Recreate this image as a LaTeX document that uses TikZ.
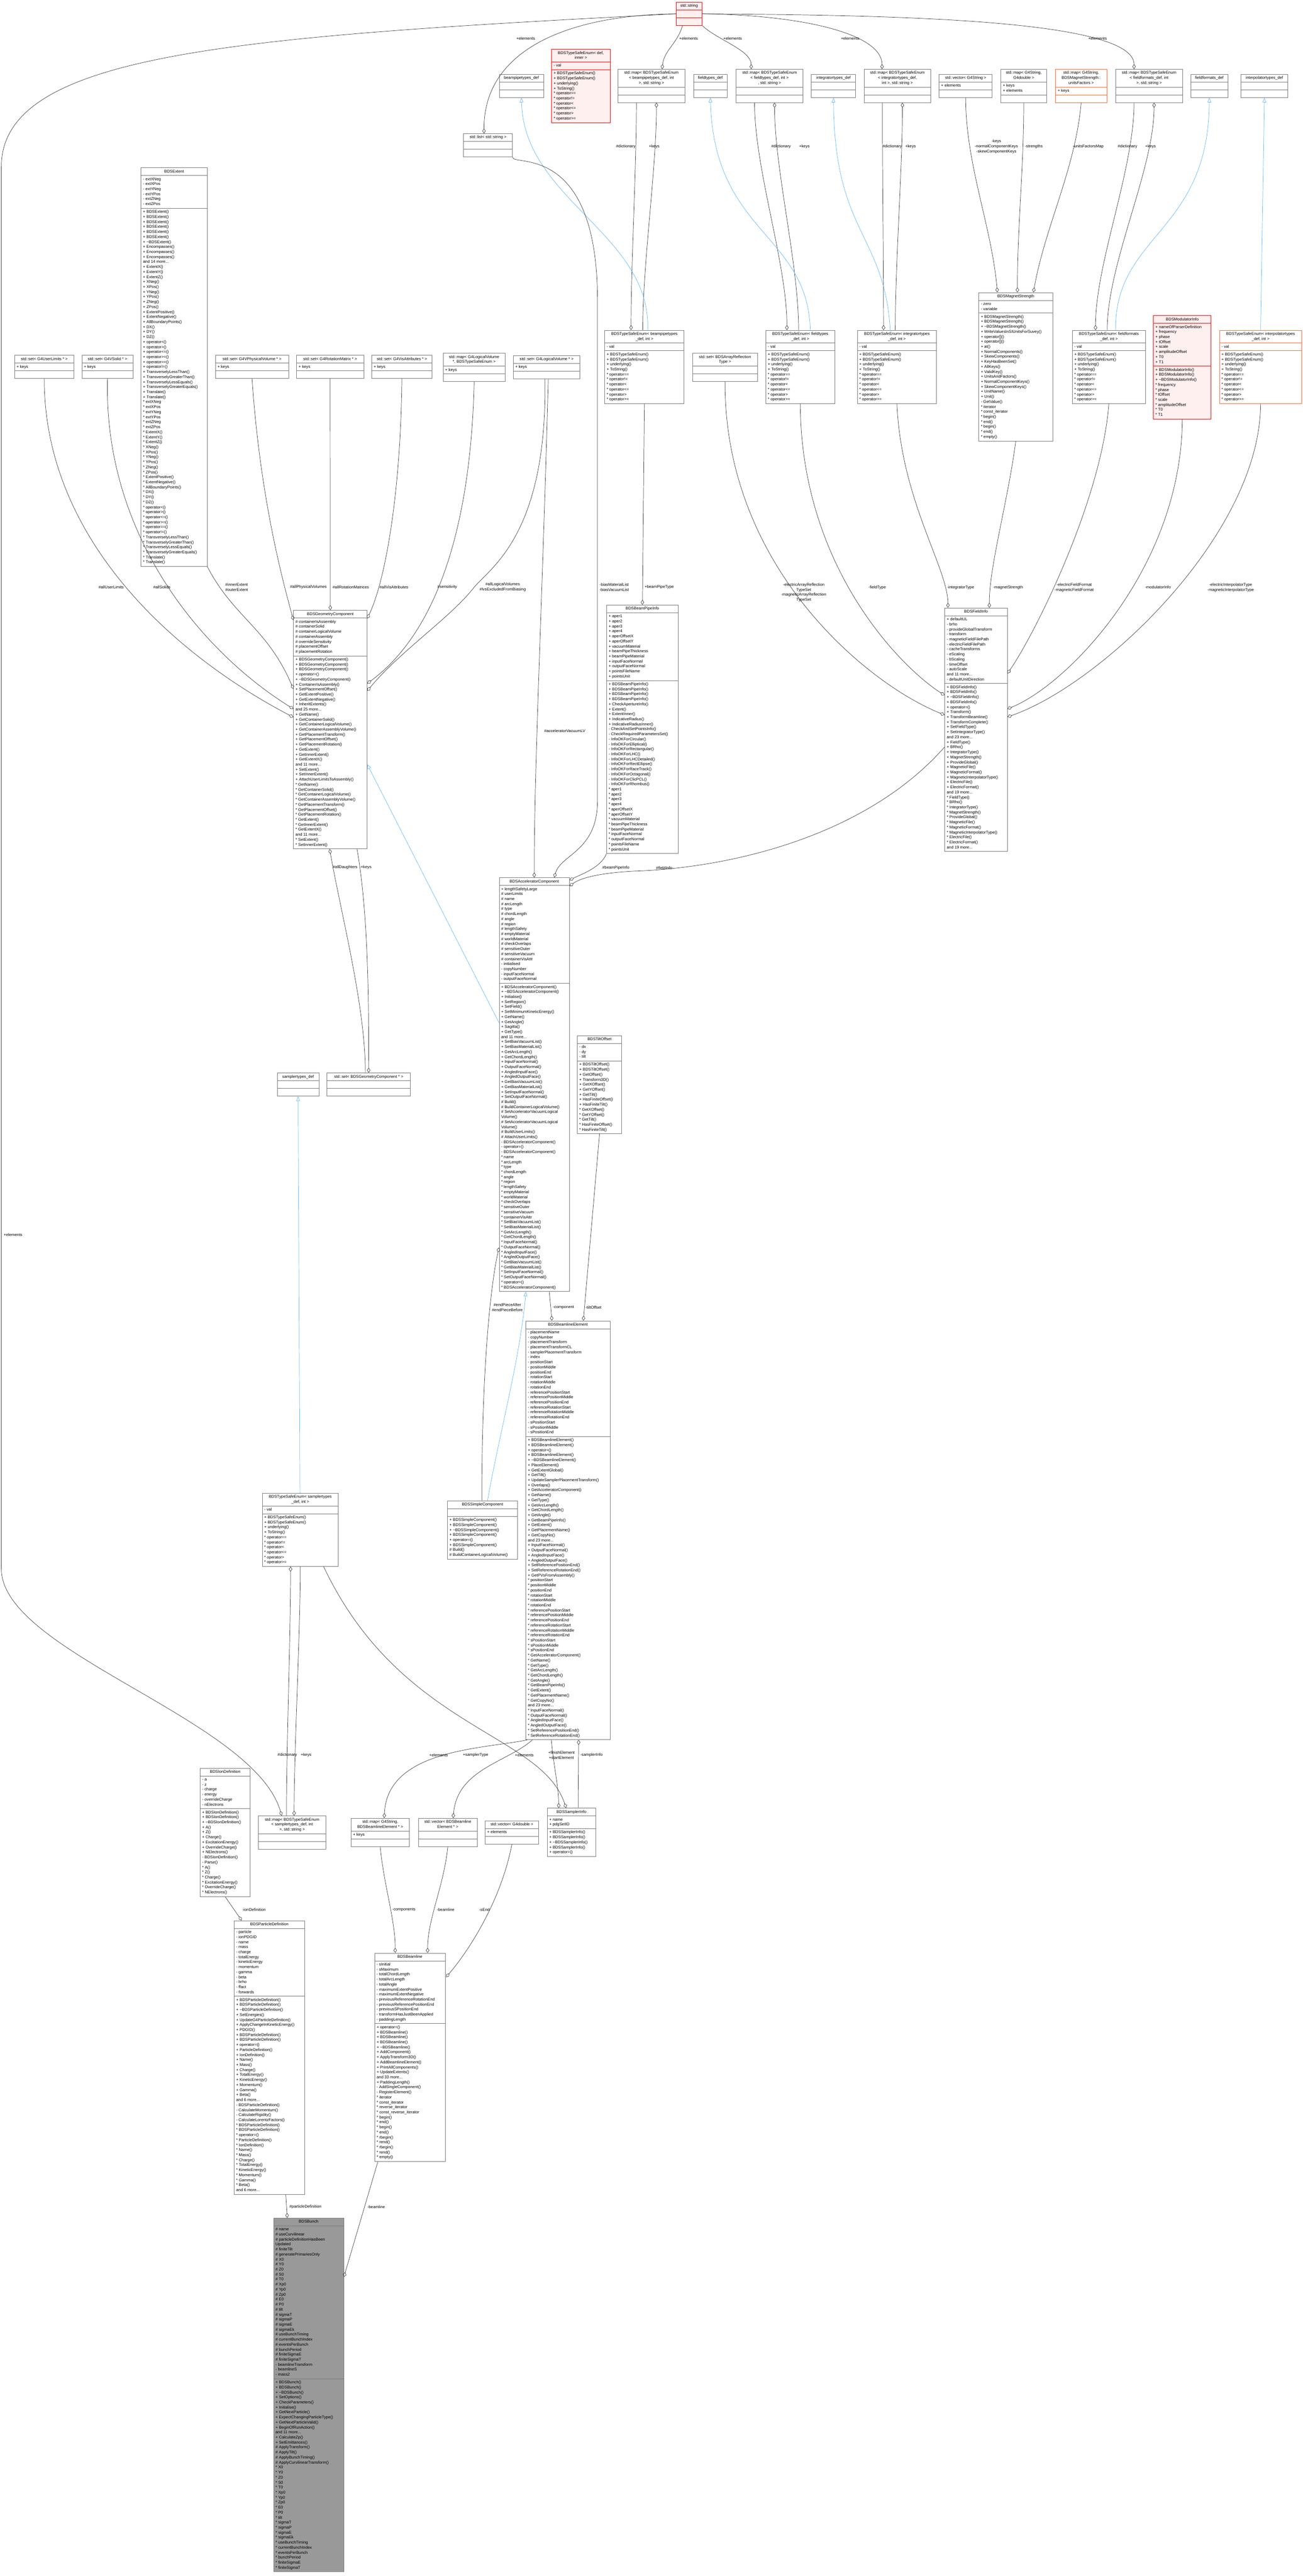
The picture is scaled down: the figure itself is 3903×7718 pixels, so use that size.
\documentclass[tikz,border=0pt]{standalone}
\usepackage{fontspec}
\setmainfont{Liberation Sans}
\usetikzlibrary{shapes.multipart,arrows.meta,calc}
\definecolor{boxgray}{HTML}{7A7A7A}
\definecolor{edgec}{HTML}{404040}
\definecolor{inhc}{HTML}{63B8FF}
\definecolor{redb}{HTML}{FF0000}
\definecolor{redf}{HTML}{FFF0F0}
\definecolor{orab}{HTML}{FF6633}
\definecolor{focf}{HTML}{999999}
\newcommand\fs{\fontsize{12}{15}\selectfont}
\newcommand\mlines[1]{\begin{tabular}{@{}l@{}}#1\end{tabular}}
\newcommand\tlines[1]{\begin{tabular}{@{}c@{}}#1\end{tabular}}
\newcommand\tl{\textasciitilde}
\newcommand\TSEM{\mlines{+ BDSTypeSafeEnum()\cr + BDSTypeSafeEnum()\cr + underlying()\cr + ToString()\cr * operator==\cr * operator!=\cr * operator<\cr * operator<=\cr * operator>\cr * operator>=}}
\newcommand\cls[6]{\node[cls,#2] (#1) at #3 {\tlines{#4}\nodepart{second}#5\nodepart{third}#6};}
\tikzset{
 cls/.style={rectangle split, rectangle split parts=3, rectangle split part align={center,left,left},
   draw=boxgray, line width=1.2pt, fill=white, anchor=north west, inner xsep=6pt, inner ysep=3.5pt, font=\fs},
 redbox/.style={draw=redb, fill=redf},
 orabox/.style={draw=orab},
 focbox/.style={fill=focf, draw=boxgray},
 agg/.style={draw=edgec, line width=1.1pt, -{Diamond[open,length=15pt,width=10pt]}, distance=200pt},
 inh/.style={draw=inhc, line width=1.1pt, -{Triangle[open,length=14pt,width=11pt]}, distance=200pt},
 lbl/.style={font=\fs, align=center, inner sep=1pt}
}
\begin{document}
\begin{tikzpicture}[x=1pt,y=1pt]
\useasboundingbox (0,0) rectangle (3903,-7718);
% ---------- top row ----------
\cls{string}{redbox,minimum width=78}{(2025,-6)}{std::string}{\strut}{\strut}
\cls{tse_def}{redbox,minimum width=175}{(1652,-147)}{BDSTypeSafeEnum< def,\cr inner >}{\mlines{- val}}{\TSEM}
\cls{bp_def}{minimum width=133}{(1495,-222)}{beampipetypes\_def}{\strut}{\strut}
\cls{list_str}{minimum width=147}{(1388,-400)}{std::list< std::string >}{\strut}{\strut}
\cls{map_bp}{minimum width=202}{(1850,-207)}{std::map< BDSTypeSafeEnum\cr < beampipetypes\_def, int\cr >, std::string >}{\strut}{\strut}
\cls{ft_def}{minimum width=101}{(2077,-222)}{fieldtypes\_def}{\strut}{\strut}
\cls{map_ft}{minimum width=200}{(2205,-207)}{std::map< BDSTypeSafeEnum\cr < fieldtypes\_def, int >\cr , std::string >}{\strut}{\strut}
\cls{it_def}{minimum width=133}{(2430,-222)}{integratortypes\_def}{\strut}{\strut}
\cls{map_it}{minimum width=200}{(2588,-207)}{std::map< BDSTypeSafeEnum\cr < integratortypes\_def,\cr int >, std::string >}{\strut}{\strut}
\cls{vec_gs}{minimum width=159}{(2813,-222)}{std::vector< G4String >}{\mlines{+ elements}}{\strut}
\cls{map_gd}{minimum width=137}{(2998,-207)}{std::map< G4String,\cr G4double >}{\mlines{+ keys\cr + elements}}{\strut}
\cls{map_uf}{orabox,minimum width=153}{(3162,-207)}{std::map< G4String,\cr BDSMagnetStrength::\cr unitsFactors >}{\mlines{+ keys}}{\strut}
\cls{map_ff}{minimum width=200}{(3342,-207)}{std::map< BDSTypeSafeEnum\cr < fieldformats\_def, int\cr >, std::string >}{\strut}{\strut}
\cls{ff_def}{minimum width=111}{(3567,-222)}{fieldformats\_def}{\strut}{\strut}
\cls{ip_def}{minimum width=141}{(3717,-222)}{interpolatortypes\_def}{\strut}{\strut}
% ---------- second row ----------
\cls{set_ul}{minimum width=178}{(43,-1064)}{std::set< G4UserLimits * >}{\mlines{+ keys}}{\strut}
\cls{set_sol}{minimum width=153}{(245,-1064)}{std::set< G4VSolid * >}{\mlines{+ keys}}{\strut}
\cls{extent}{minimum width=198}{(422,-502)}{BDSExtent}{\mlines{- extXNeg\cr - extXPos\cr - extYNeg\cr - extYPos\cr - extZNeg\cr - extZPos}}{\mlines{+ BDSExtent()\cr + BDSExtent()\cr + BDSExtent()\cr + BDSExtent()\cr + BDSExtent()\cr + BDSExtent()\cr + \tl BDSExtent()\cr + Encompasses()\cr + Encompasses()\cr + Encompasses()\cr and 14 more...\cr + ExtentX()\cr + ExtentY()\cr + ExtentZ()\cr + XNeg()\cr + XPos()\cr + YNeg()\cr + YPos()\cr + ZNeg()\cr + ZPos()\cr + ExtentPositive()\cr + ExtentNegative()\cr + AllBoundaryPoints()\cr + DX()\cr + DY()\cr + DZ()\cr + operator<()\cr + operator>()\cr + operator<=()\cr + operator>=()\cr + operator==()\cr + operator!=()\cr + TransverselyLessThan()\cr + TransverselyGreaterThan()\cr + TransverselyLessEquals()\cr + TransverselyGreaterEquals()\cr + Translate()\cr + Translate()\cr * extXNeg\cr * extXPos\cr * extYNeg\cr * extYPos\cr * extZNeg\cr * extZPos\cr * ExtentX()\cr * ExtentY()\cr * ExtentZ()\cr * XNeg()\cr * XPos()\cr * YNeg()\cr * YPos()\cr * ZNeg()\cr * ZPos()\cr * ExtentPositive()\cr * ExtentNegative()\cr * AllBoundaryPoints()\cr * DX()\cr * DY()\cr * DZ()\cr * operator<()\cr * operator>()\cr * operator<=()\cr * operator>=()\cr * operator==()\cr * operator!=()\cr * TransverselyLessThan()\cr * TransverselyGreaterThan()\cr * TransverselyLessEquals()\cr * TransverselyGreaterEquals()\cr * Translate()\cr * Translate()}}
\cls{set_pv}{minimum width=219}{(645,-1064)}{std::set< G4VPhysicalVolume * >}{\mlines{+ keys}}{\strut}
\cls{set_rm}{minimum width=201}{(888,-1064)}{std::set< G4RotationMatrix * >}{\mlines{+ keys}}{\strut}
\cls{set_va}{minimum width=181}{(1113,-1064)}{std::set< G4VisAttributes * >}{\mlines{+ keys}}{\strut}
\cls{map_lv}{minimum width=186}{(1327,-1058)}{std::map< G4LogicalVolume\cr *, BDSTypeSafeEnum >}{\mlines{+ keys}}{\strut}
\cls{set_lv}{minimum width=200}{(1537,-1065)}{std::set< G4LogicalVolume * >}{\mlines{+ keys}}{\strut}
\cls{tse_bp}{minimum width=238}{(1811,-989)}{BDSTypeSafeEnum< beampipetypes\cr \_def, int >}{\mlines{- val}}{\TSEM}
\cls{set_ar}{minimum width=195}{(2074,-1058)}{std::set< BDSArrayReflection\cr Type >}{\strut}{\strut}
\cls{tse_ft}{minimum width=206}{(2294,-989)}{BDSTypeSafeEnum< fieldtypes\cr \_def, int >}{\mlines{- val}}{\TSEM}
\cls{tse_it}{minimum width=237}{(2568,-989)}{BDSTypeSafeEnum< integratortypes\cr \_def, int >}{\mlines{- val}}{\TSEM}
\cls{magstr}{minimum width=221}{(2932,-876)}{BDSMagnetStrength}{\mlines{- zero\cr - variable}}{\mlines{+ BDSMagnetStrength()\cr + BDSMagnetStrength()\cr + \tl BDSMagnetStrength()\cr + WriteValuesInSIUnitsForSuvey()\cr + operator[]()\cr + operator[]()\cr + at()\cr + NormalComponents()\cr + SkewComponents()\cr + KeyHasBeenSet()\cr + AllKeys()\cr + ValidKey()\cr + UnitsAndFactors()\cr + NormalComponentKeys()\cr + SkewComponentKeys()\cr + UnitName()\cr + Unit()\cr - GetValue()\cr * iterator\cr * const\_iterator\cr * begin()\cr * end()\cr * begin()\cr * end()\cr * empty()}}
\cls{tse_ff}{minimum width=219}{(3212,-989)}{BDSTypeSafeEnum< fieldformats\cr \_def, int >}{\mlines{- val}}{\TSEM}
\cls{modinfo}{redbox,minimum width=173}{(3455,-945)}{BDSModulatorInfo}{\mlines{+ nameOfParserDefinition\cr + frequency\cr + phase\cr + tOffset\cr + scale\cr + amplitudeOffset\cr + T0\cr + T1}}{\mlines{+ BDSModulatorInfo()\cr + BDSModulatorInfo()\cr + \tl BDSModulatorInfo()\cr * frequency\cr * phase\cr * tOffset\cr * scale\cr * amplitudeOffset\cr * T0\cr * T1}}
\cls{tse_ip}{orabox,minimum width=246}{(3653,-989)}{BDSTypeSafeEnum< interpolatortypes\cr \_def, int >}{\mlines{- val}}{\TSEM}
% ---------- third level ----------
\cls{geom}{minimum width=220}{(879,-1828)}{BDSGeometryComponent}{\mlines{\# containerIsAssembly\cr \# containerSolid\cr \# containerLogicalVolume\cr \# containerAssembly\cr \# overrideSensitivity\cr \# placementOffset\cr \# placementRotation}}{\mlines{+ BDSGeometryComponent()\cr + BDSGeometryComponent()\cr + BDSGeometryComponent()\cr + operator=()\cr + \tl BDSGeometryComponent()\cr + ContainerIsAssembly()\cr + SetPlacementOffset()\cr + GetExtentPositive()\cr + GetExtentNegative()\cr + InheritExtents()\cr and 25 more...\cr + GetName()\cr + GetContainerSolid()\cr + GetContainerLogicalVolume()\cr + GetContainerAssemblyVolume()\cr + GetPlacementTransform()\cr + GetPlacementOffset()\cr + GetPlacementRotation()\cr + GetExtent()\cr + GetInnerExtent()\cr + GetExtentX()\cr and 11 more...\cr + SetExtent()\cr + SetInnerExtent()\cr + AttachUserLimitsToAssembly()\cr * GetName()\cr * GetContainerSolid()\cr * GetContainerLogicalVolume()\cr * GetContainerAssemblyVolume()\cr * GetPlacementTransform()\cr * GetPlacementOffset()\cr * GetPlacementRotation()\cr * GetExtent()\cr * GetInnerExtent()\cr * GetExtentX()\cr and 11 more...\cr * SetExtent()\cr * SetInnerExtent()}}
\cls{bpinfo}{minimum width=214}{(1817,-1812)}{BDSBeamPipeInfo}{\mlines{+ aper1\cr + aper2\cr + aper3\cr + aper4\cr + aperOffsetX\cr + aperOffsetY\cr + vacuumMaterial\cr + beamPipeThickness\cr + beamPipeMaterial\cr + inputFaceNormal\cr + outputFaceNormal\cr + pointsFileName\cr + pointsUnit}}{\mlines{+ BDSBeamPipeInfo()\cr + BDSBeamPipeInfo()\cr + BDSBeamPipeInfo()\cr + BDSBeamPipeInfo()\cr + CheckApertureInfo()\cr + Extent()\cr + ExtentInner()\cr + IndicativeRadius()\cr + IndicativeRadiusInner()\cr - CheckAndSetPointsInfo()\cr - CheckRequiredParametersSet()\cr - InfoOKForCircular()\cr - InfoOKForElliptical()\cr - InfoOKForRectangular()\cr - InfoOKForLHC()\cr - InfoOKForLHCDetailed()\cr - InfoOKForRectEllipse()\cr - InfoOKForRaceTrack()\cr - InfoOKForOctagonal()\cr - InfoOKForClicPCL()\cr - InfoOKForRhombus()\cr * aper1\cr * aper2\cr * aper3\cr * aper4\cr * aperOffsetX\cr * aperOffsetY\cr * vacuumMaterial\cr * beamPipeThickness\cr * beamPipeMaterial\cr * inputFaceNormal\cr * outputFaceNormal\cr * pointsFileName\cr * pointsUnit}}
\cls{fieldinfo}{minimum width=187}{(2830,-1821)}{BDSFieldInfo}{\mlines{+ defaultUL\cr - brho\cr - provideGlobalTransform\cr - transform\cr - magneticFieldFilePath\cr - electricFieldFilePath\cr - cacheTransforms\cr - eScaling\cr - bScaling\cr - timeOffset\cr - autoScale\cr and 11 more...\cr - defaultUnitDirection}}{\mlines{+ BDSFieldInfo()\cr + BDSFieldInfo()\cr + \tl BDSFieldInfo()\cr + BDSFieldInfo()\cr + operator=()\cr + Transform()\cr + TransformBeamline()\cr + TransformComplete()\cr + SetFieldType()\cr + SetIntegratorType()\cr and 23 more...\cr + FieldType()\cr + BRho()\cr + IntegratorType()\cr + MagnetStrength()\cr + ProvideGlobal()\cr + MagneticFile()\cr + MagneticFormat()\cr + MagneticInterpolatorType()\cr + ElectricFile()\cr + ElectricFormat()\cr and 19 more...\cr * FieldType()\cr * BRho()\cr * IntegratorType()\cr * MagnetStrength()\cr * ProvideGlobal()\cr * MagneticFile()\cr * MagneticFormat()\cr * MagneticInterpolatorType()\cr * ElectricFile()\cr * ElectricFormat()\cr and 19 more...}}
\cls{samp_def}{minimum width=125}{(830,-3214)}{samplertypes\_def}{\strut}{\strut}
\cls{set_gc}{minimum width=250}{(979,-3214)}{std::set< BDSGeometryComponent * >}{\strut}{\strut}
\cls{acc}{minimum width=210}{(1495,-2629)}{BDSAcceleratorComponent}{\mlines{+ lengthSafetyLarge\cr \# userLimits\cr \# name\cr \# arcLength\cr \# type\cr \# chordLength\cr \# angle\cr \# region\cr \# lengthSafety\cr \# emptyMaterial\cr \# worldMaterial\cr \# checkOverlaps\cr \# sensitiveOuter\cr \# sensitiveVacuum\cr \# containerVisAttr\cr - initialised\cr - copyNumber\cr - inputFaceNormal\cr - outputFaceNormal}}{\mlines{+ BDSAcceleratorComponent()\cr + \tl BDSAcceleratorComponent()\cr + Initialise()\cr + SetRegion()\cr + SetField()\cr + SetMinimumKineticEnergy()\cr + GetName()\cr + GetAngle()\cr + Sagitta()\cr + GetType()\cr and 11 more...\cr + SetBiasVacuumList()\cr + SetBiasMaterialList()\cr + GetArcLength()\cr + GetChordLength()\cr + InputFaceNormal()\cr + OutputFaceNormal()\cr + AngledInputFace()\cr + AngledOutputFace()\cr + GetBiasVacuumList()\cr + GetBiasMaterialList()\cr + SetInputFaceNormal()\cr + SetOutputFaceNormal()\cr \# Build()\cr \# BuildContainerLogicalVolume()\cr \# SetAcceleratorVacuumLogical\cr Volume()\cr \# SetAcceleratorVacuumLogical\cr Volume()\cr \# BuildUserLimits()\cr \# AttachUserLimits()\cr - BDSAcceleratorComponent()\cr - operator=()\cr - BDSAcceleratorComponent()\cr * name\cr * arcLength\cr * type\cr * chordLength\cr * angle\cr * region\cr * lengthSafety\cr * emptyMaterial\cr * worldMaterial\cr * checkOverlaps\cr * sensitiveOuter\cr * sensitiveVacuum\cr * containerVisAttr\cr * SetBiasVacuumList()\cr * SetBiasMaterialList()\cr * GetArcLength()\cr * GetChordLength()\cr * InputFaceNormal()\cr * OutputFaceNormal()\cr * AngledInputFace()\cr * AngledOutputFace()\cr * GetBiasVacuumList()\cr * GetBiasMaterialList()\cr * SetInputFaceNormal()\cr * SetOutputFaceNormal()\cr * operator=()\cr * BDSAcceleratorComponent()}}
\cls{tilt}{minimum width=133}{(1729,-3102)}{BDSTiltOffset}{\mlines{- dx\cr - dy\cr - tilt}}{\mlines{+ BDSTiltOffset()\cr + BDSTiltOffset()\cr + GetOffset()\cr + Transform3D()\cr + GetXOffset()\cr + GetYOffset()\cr + GetTilt()\cr + HasFiniteOffset()\cr + HasFiniteTilt()\cr * GetXOffset()\cr * GetYOffset()\cr * GetTilt()\cr * HasFiniteOffset()\cr * HasFiniteTilt()}}
\cls{ble}{minimum width=252}{(1575,-3957)}{BDSBeamlineElement}{\mlines{- placementName\cr - copyNumber\cr - placementTransform\cr - placementTransformCL\cr - samplerPlacementTransform\cr - index\cr - positionStart\cr - positionMiddle\cr - positionEnd\cr - rotationStart\cr - rotationMiddle\cr - rotationEnd\cr - referencePositionStart\cr - referencePositionMiddle\cr - referencePositionEnd\cr - referenceRotationStart\cr - referenceRotationMiddle\cr - referenceRotationEnd\cr - sPositionStart\cr - sPositionMiddle\cr - sPositionEnd}}{\mlines{+ BDSBeamlineElement()\cr + BDSBeamlineElement()\cr + operator=()\cr + BDSBeamlineElement()\cr + \tl BDSBeamlineElement()\cr + PlaceElement()\cr + GetExtentGlobal()\cr + GetTilt()\cr + UpdateSamplerPlacementTransform()\cr + Overlaps()\cr + GetAcceleratorComponent()\cr + GetName()\cr + GetType()\cr + GetArcLength()\cr + GetChordLength()\cr + GetAngle()\cr + GetBeamPipeInfo()\cr + GetExtent()\cr + GetPlacementName()\cr + GetCopyNo()\cr and 23 more...\cr + InputFaceNormal()\cr + OutputFaceNormal()\cr + AngledInputFace()\cr + AngledOutputFace()\cr + SetReferencePositionEnd()\cr + SetReferenceRotationEnd()\cr + GetPVsFromAssembly()\cr * positionStart\cr * positionMiddle\cr * positionEnd\cr * rotationStart\cr * rotationMiddle\cr * rotationEnd\cr * referencePositionStart\cr * referencePositionMiddle\cr * referencePositionEnd\cr * referenceRotationStart\cr * referenceRotationMiddle\cr * referenceRotationEnd\cr * sPositionStart\cr * sPositionMiddle\cr * sPositionEnd\cr * GetAcceleratorComponent()\cr * GetName()\cr * GetType()\cr * GetArcLength()\cr * GetChordLength()\cr * GetAngle()\cr * GetBeamPipeInfo()\cr * GetExtent()\cr * GetPlacementName()\cr * GetCopyNo()\cr and 23 more...\cr * InputFaceNormal()\cr * OutputFaceNormal()\cr * AngledInputFace()\cr * AngledOutputFace()\cr * SetReferencePositionEnd()\cr * SetReferenceRotationEnd()}}
\cls{simple}{minimum width=210}{(1340,-4496)}{BDSSimpleComponent}{\strut}{\mlines{+ BDSSimpleComponent()\cr + BDSSimpleComponent()\cr + \tl BDSSimpleComponent()\cr + BDSSimpleComponent()\cr + operator=()\cr + BDSSimpleComponent()\cr \# Build()\cr \# BuildContainerLogicalVolume()}}
\cls{tse_samp}{minimum width=228}{(785,-4473)}{BDSTypeSafeEnum< samplertypes\cr \_def, int >}{\mlines{- val}}{\TSEM}
\cls{iondef}{minimum width=150}{(599,-5297)}{BDSIonDefinition}{\mlines{- a\cr - z\cr - charge\cr - energy\cr - overrideCharge\cr - nElectrons}}{\mlines{+ BDSIonDefinition()\cr + BDSIonDefinition()\cr + \tl BDSIonDefinition()\cr + A()\cr + Z()\cr + Charge()\cr + ExcitationEnergy()\cr + OverrideCharge()\cr + NElectrons()\cr - BDSIonDefinition()\cr - Parse()\cr * A()\cr * Z()\cr * Charge()\cr * ExcitationEnergy()\cr * OverrideCharge()\cr * NElectrons()}}
\cls{map_samp}{minimum width=201}{(774,-5440)}{std::map< BDSTypeSafeEnum\cr < samplertypes\_def, int\cr >, std::string >}{\strut}{\strut}
\cls{map_ble}{minimum width=175}{(1051,-5447)}{std::map< G4String,\cr BDSBeamlineElement * >}{\mlines{+ keys}}{\strut}
\cls{vec_ble}{minimum width=176}{(1253,-5447)}{std::vector< BDSBeamline\cr Element * >}{\strut}{\strut}
\cls{vec_d}{minimum width=160}{(1453,-5455)}{std::vector< G4double >}{\mlines{+ elements}}{\strut}
\cls{sampinfo}{minimum width=145}{(1639,-5417)}{BDSSamplerInfo}{\mlines{+ name\cr + pdgSetID}}{\mlines{+ BDSSamplerInfo()\cr + BDSSamplerInfo()\cr + \tl BDSSamplerInfo()\cr + BDSSamplerInfo()\cr + operator=()}}
\cls{partdef}{minimum width=211}{(701,-5754)}{BDSParticleDefinition}{\mlines{- particle\cr - ionPDGID\cr - name\cr - mass\cr - charge\cr - totalEnergy\cr - kineticEnergy\cr - momentum\cr - gamma\cr - beta\cr - brho\cr - ffact\cr - forwards}}{\mlines{+ BDSParticleDefinition()\cr + BDSParticleDefinition()\cr + \tl BDSParticleDefinition()\cr + SetEnergies()\cr + UpdateG4ParticleDefinition()\cr + ApplyChangeInKineticEnergy()\cr + PDGID()\cr + BDSParticleDefinition()\cr + BDSParticleDefinition()\cr + operator=()\cr + ParticleDefinition()\cr + IonDefinition()\cr + Name()\cr + Mass()\cr + Charge()\cr + TotalEnergy()\cr + KineticEnergy()\cr + Momentum()\cr + Gamma()\cr + Beta()\cr and 6 more...\cr - BDSParticleDefinition()\cr - CalculateMomentum()\cr - CalculateRigidity()\cr - CalculateLorentzFactors()\cr * BDSParticleDefinition()\cr * BDSParticleDefinition()\cr * operator=()\cr * ParticleDefinition()\cr * IonDefinition()\cr * Name()\cr * Mass()\cr * Charge()\cr * TotalEnergy()\cr * KineticEnergy()\cr * Momentum()\cr * Gamma()\cr * Beta()\cr and 6 more...}}
\cls{beamline}{minimum width=211}{(1122,-5851)}{BDSBeamline}{\mlines{- sInitial\cr - sMaximum\cr - totalChordLength\cr - totalArcLength\cr - totalAngle\cr - maximumExtentPositive\cr - maximumExtentNegative\cr - previousReferenceRotationEnd\cr - previousReferencePositionEnd\cr - previousSPositionEnd\cr - transformHasJustBeenApplied\cr - paddingLength}}{\mlines{+ operator=()\cr + BDSBeamline()\cr + BDSBeamline()\cr + BDSBeamline()\cr + \tl BDSBeamline()\cr + AddComponent()\cr + ApplyTransform3D()\cr + AddBeamlineElement()\cr + PrintAllComponents()\cr + UpdateExtents()\cr and 33 more...\cr + PaddingLength()\cr - AddSingleComponent()\cr - RegisterElement()\cr * iterator\cr * const\_iterator\cr * reverse\_iterator\cr * const\_reverse\_iterator\cr * begin()\cr * end()\cr * begin()\cr * end()\cr * rbegin()\cr * rend()\cr * rbegin()\cr * rend()\cr * empty()}}
\cls{bunch}{focbox,minimum width=210}{(819,-6645)}{BDSBunch}{\mlines{\# name\cr \# useCurvilinear\cr \# particleDefinitionHasBeen\cr Updated\cr \# finiteTilt\cr \# generatePrimariesOnly\cr \# X0\cr \# Y0\cr \# Z0\cr \# S0\cr \# T0\cr \# Xp0\cr \# Yp0\cr \# Zp0\cr \# E0\cr \# P0\cr \# tilt\cr \# sigmaT\cr \# sigmaP\cr \# sigmaE\cr \# sigmaEk\cr \# useBunchTiming\cr \# currentBunchIndex\cr \# eventsPerBunch\cr \# bunchPeriod\cr \# finiteSigmaE\cr \# finiteSigmaT\cr - beamlineTransform\cr - beamlineS\cr - mass2}}{\mlines{+ BDSBunch()\cr + BDSBunch()\cr + \tl BDSBunch()\cr + SetOptions()\cr + CheckParameters()\cr + Initialise()\cr + GetNextParticle()\cr + ExpectChangingParticleType()\cr + GetNextParticleValid()\cr + BeginOfRunAction()\cr and 11 more...\cr + CalculateZp()\cr + SetEmittances()\cr \# ApplyTransform()\cr \# ApplyTilt()\cr \# ApplyBunchTiming()\cr \# ApplyCurvilinearTransform()\cr * X0\cr * Y0\cr * Z0\cr * S0\cr * T0\cr * Xp0\cr * Yp0\cr * Zp0\cr * E0\cr * P0\cr * tilt\cr * sigmaT\cr * sigmaP\cr * sigmaE\cr * sigmaEk\cr * useBunchTiming\cr * currentBunchIndex\cr * eventsPerBunch\cr * bunchPeriod\cr * finiteSigmaE\cr * finiteSigmaT}}
% ================= edges =================
% std::string
\draw[agg] (string.west) .. controls (1700,-45) and (1449,-150) .. ($(list_str.north)+(-12,0)$);
\draw[agg] ($(string.south)+(-20,0)$) .. controls (2030,-130) and (1990,-150) .. ($(map_bp.north)+(32,0)$);
\draw[agg] (string.south east) .. controls (2150,-120) and (2250,-150) .. ($(map_ft.north)+(-55,0)$);
\draw[agg] (string.east) .. controls (2400,-45) and (2642,-100) .. ($(map_it.north)+(-46,0)$);
\draw[agg] (string.east) .. controls (2700,-45) and (3397,-60) .. ($(map_ff.north)+(-45,0)$);
\draw[agg] (string.west) .. controls (700,-110) and (4,-160) .. (4,-500) -- (4,-4700) .. controls (4,-4950) and (760,-5150) .. ($(map_samp.north west)+(70,0)$);
% maps <-> type safe enums
\foreach \m/\t in {map_bp/tse_bp, map_ft/tse_ft, map_it/tse_it, map_ff/tse_ff}{
  \draw[agg] ($(\m.south)+(-45,0)$) to[out=-90,in=90] ($(\t.north)+(-40,0)$);
  \draw[agg] ($(\t.north)+(-5,0)$) to[out=90,in=-90] ($(\m.south)+(15,0)$);
}
\draw[agg] ($(map_samp.north)+(-17,0)$) to[out=90,in=-90] ($(tse_samp.south)+(-29,0)$);
\draw[agg] (tse_samp.south) to[out=-90,in=90] ($(map_samp.north)+(6,0)$);
% inheritance
\draw[inh] ($(tse_bp.north)+(10,0)$) .. controls (1950,-700) and (1570,-600) .. (bp_def.south);
\draw[inh] ($(tse_ft.north)+(30,0)$) .. controls (2420,-700) and (2140,-700) .. (ft_def.south);
\draw[inh] ($(tse_it.north)+(-20,0)$) .. controls (2650,-700) and (2500,-700) .. (it_def.south);
\draw[inh] ($(tse_ff.north)+(20,0)$) .. controls (3340,-700) and (3620,-700) .. (ff_def.south);
\draw[inh] (tse_ip.north) -- (ip_def.south);
\draw[inh] ($(tse_samp.north)+(-1,0)$) -- (samp_def.south);
\draw[inh] ($(acc.north west)+(0,-435)$) -- ($(geom.north east)+(0,-462)$);
\draw[inh] ($(simple.north)+(15,0)$) to[out=80,in=-95] ($(acc.south)+(-25,0)$);
% magnet strength
\draw[agg] (vec_gs.south) to[out=-90,in=95] ($(magstr.north)+(-55,0)$);
\draw[agg] (map_gd.south) to[out=-90,in=90] ($(magstr.north)+(5,0)$);
\draw[agg] (map_uf.south) to[out=-95,in=80] ($(magstr.north)+(53,0)$);
% geometry component
\draw[agg] (set_ul.south) .. controls (132,-1600) and (500,-1950) .. ($(geom.north west)+(0,-321)$);
\draw[agg] (set_sol.south) .. controls (310,-1600) and (600,-1950) .. ($(geom.north west)+(0,-296)$);
\draw[agg] (extent.south east) .. controls (700,-1850) and (800,-1880) .. ($(geom.north west)+(0,-236)$);
\draw[agg] (set_pv.south) .. controls (780,-1500) and (850,-1750) .. ($(geom.north west)+(0,-30)$);
\draw[agg] (set_rm.south) -- (geom.north);
\draw[agg] (set_va.south) .. controls (1200,-1500) and (1150,-1750) .. ($(geom.north east)+(0,-25)$);
\draw[agg] (map_lv.south) .. controls (1410,-1600) and (1300,-1900) .. ($(geom.north east)+(0,-220)$);
\draw[agg] ($(set_lv.south)+(-5,0)$) .. controls (1640,-1600) and (1470,-1700) .. (1420,-1760) .. controls (1350,-1850) and (1200,-1950) .. ($(geom.north east)+(0,-242)$);
\draw[agg] ($(set_gc.north)+(-10,0)$) to[out=90,in=-80] ($(geom.south)+(-2,0)$);
\draw[agg] ($(geom.south)+(80,0)$) to[out=-80,in=90] (set_gc.north);
% field info
\draw[agg] (tse_ft.south) .. controls (2400,-1700) and (2700,-2000) .. ($(fieldinfo.north west)+(0,-262)$);
\draw[agg] (set_ar.south) .. controls (2170,-1700) and (2600,-2050) .. ($(fieldinfo.north west)+(0,-321)$);
\draw[agg] (tse_it.south) .. controls (2700,-1500) and (2839,-1700) .. ($(fieldinfo.north)+(-84,0)$);
\draw[agg] (magstr.south) .. controls (3020,-1500) and (2963,-1700) .. ($(fieldinfo.north)+(40,0)$);
\draw[agg] (tse_ff.south) .. controls (3300,-1500) and (3100,-1900) .. ($(fieldinfo.north east)+(0,-197)$);
\draw[agg] (modinfo.south) .. controls (3540,-1700) and (3200,-2050) .. ($(fieldinfo.north east)+(0,-303)$);
\draw[agg] (tse_ip.south) .. controls (3776,-1600) and (3300,-2050) .. ($(fieldinfo.north east)+(0,-327)$);
% beam pipe info
\draw[agg] (tse_bp.south) -- (bpinfo.north);
% accelerator component
\draw[agg] ($(set_lv.south)+(5,0)$) .. controls (1625,-1800) and (1600,-2300) .. (acc.north);
\draw[agg] (list_str.south east) .. controls (1530,-500) and (1790,-420) .. (1790,-900) -- (1790,-2400) .. controls (1790,-2550) and (1680,-2560) .. ($(acc.north)+(60,0)$);
\draw[agg] (bpinfo.south west) .. controls (1800,-2600) and (1740,-2620) .. ($(acc.north east)+(0,-8)$);
\draw[agg] ($(fieldinfo.north west)+(0,-417)$) .. controls (2600,-2500) and (2200,-2600) .. (1900,-2610) .. controls (1800,-2615) and (1740,-2630) .. ($(acc.north east)+(0,-26)$);
\draw[agg] ($(simple.north)+(-2,0)$) .. controls (1443,-4100) and (1470,-3850) .. ($(acc.south west)+(0,132)$);
% beamline element
\draw[agg] ($(acc.south)+(45,0)$) -- ($(ble.north)+(-48,0)$);
\draw[agg] (tilt.south) -- ($(ble.north)+(46,0)$);
\draw[agg] ($(ble.south west)+(5,0)$) .. controls (1450,-5240) and (1160,-5240) .. ($(map_ble.north)+(12,0)$);
\draw[agg] ($(ble.south west)+(20,0)$) .. controls (1520,-5280) and (1370,-5300) .. ($(vec_ble.north)+(16,0)$);
\draw[agg] ($(ble.south)+(-50,0)$) .. controls (1660,-5300) and (1673,-5350) .. ($(sampinfo.north)+(-38,0)$);
\draw[agg] ($(tse_samp.south)+(70,0)$) .. controls (1200,-5180) and (1620,-5190) .. ($(sampinfo.north)+(-16,0)$);
\draw[agg] ($(sampinfo.north)+(20,0)$) -- ($(ble.south)+(32,0)$);
% beamline / bunch
\draw[agg] (map_ble.south) .. controls (1150,-5650) and (1184,-5750) .. ($(beamline.north)+(-44,0)$);
\draw[agg] (vec_ble.south) .. controls (1330,-5650) and (1281,-5750) .. ($(beamline.north)+(53,0)$);
\draw[agg] (vec_d.south) .. controls (1500,-5700) and (1400,-5850) .. ($(beamline.north east)+(2,-73)$);
\draw[agg] (iondef.south) -- ($(partdef.north)+(-83,0)$);
\draw[agg] ($(partdef.south)+(49,0)$) -- ($(bunch.north)+(-64,0)$);
\draw[agg] ($(beamline.south west)+(10,0)$) -- ($(bunch.north east)+(0,-177)$);
% ================= labels =================
\node[lbl] (l1) at (1575,-115) {+elements};
\node[lbl] (l2) at (2063,-115) {+elements};
\node[lbl] (l3) at (2195,-115) {+elements};
\node[lbl] (l4) at (2547,-115) {+elements};
\node[lbl] (l5) at (3288,-115) {+elements};
\node[lbl,anchor=west] (l6) at (10,-3700) {+elements};
\node[lbl] (l7) at (1875,-439) {\#dictionary};
\node[lbl] (l8) at (1960,-439) {+keys};
\node[lbl] (l9) at (2340,-439) {\#dictionary};
\node[lbl] (l10) at (2410,-439) {+keys};
\node[lbl] (l11) at (2673,-439) {\#dictionary};
\node[lbl] (l12) at (2728,-439) {+keys};
\node[lbl] (l13) at (3378,-439) {\#dictionary};
\node[lbl] (l14) at (3447,-439) {+keys};
\node[lbl] (l15) at (2985,-439) {-keys\\-normalComponentKeys\\-skewComponentKeys};
\node[lbl] (l16) at (3097,-439) {-strengths};
\node[lbl] (l17) at (3260,-439) {-unitsFactorsMap};
\node[lbl] (l18) at (333,-1759) {\#allUserLimits};
\node[lbl] (l19) at (485,-1759) {\#allSolids};
\node[lbl] (l20) at (709,-1759) {\#innerExtent\\\#outerExtent};
\node[lbl] (l21) at (924,-1759) {\#allPhysicalVolumes};
\node[lbl] (l22) at (1051,-1759) {\#allRotationMatrices};
\node[lbl] (l23) at (1180,-1759) {\#allVisAttributes};
\node[lbl] (l24) at (1340,-1759) {\#sensitivity};
\node[lbl] (l25) at (1506,-1759) {\#allLogicalVolumes\\\#lvsExcludedFromBiasing};
\node[lbl] (l26) at (1840,-1759) {-biasMaterialList\\-biasVacuumList};
\node[lbl] (l27) at (1975,-1759) {+beamPipeType};
\node[lbl] (l28) at (2408,-1775) {-electricArrayReflection\\TypeSet\\-magneticArrayReflection\\TypeSet};
\node[lbl] (l29) at (2628,-1760) {-fieldType};
\node[lbl] (l30) at (2878,-1760) {-integratorType};
\node[lbl] (l31) at (3020,-1760) {-magnetStrength};
\node[lbl] (l32) at (3218,-1760) {-electricFieldFormat\\-magneticFieldFormat};
\node[lbl] (l33) at (3469,-1760) {-modulatorInfo};
\node[lbl] (l34) at (3687,-1760) {-electricInterpolatorType\\-magneticInterpolatorType};
\node[lbl] (l35) at (1692,-2190) {\#acceleratorVacuumLV};
\node[lbl] (l36) at (1845,-2600) {\#beamPipeInfo};
\node[lbl] (l37) at (1990,-2600) {\#fieldInfo};
\node[lbl] (l38) at (1034,-2598) {\#allDaughters};
\node[lbl] (l39) at (1097,-2598) {+keys};
\node[lbl] (l40) at (1520,-3917) {\#endPieceAfter\\\#endPieceBefore};
\node[lbl] (l41) at (1688,-3917) {-component};
\node[lbl] (l42) at (1778,-3917) {-tiltOffset};
\node[lbl] (l43) at (861,-5258) {\#dictionary};
\node[lbl] (l44) at (917,-5258) {+keys};
\node[lbl] (l45) at (1314,-5258) {+elements};
\node[lbl] (l46) at (1425,-5258) {+samplerType};
\node[lbl] (l47) at (1571,-5258) {+elements};
\node[lbl] (l48) at (1682,-5258) {+finishElement\\+startElement};
\node[lbl] (l49) at (1772,-5258) {-samplerInfo};
\node[lbl] (l50) at (761,-5722) {-ionDefinition};
\node[lbl] (l51) at (1210,-5722) {-components};
\node[lbl] (l52) at (1335,-5722) {-beamline};
\node[lbl] (l53) at (1451,-5722) {-sEnd};
\node[lbl] (l54) at (915,-6612) {\#particleDefinition};
\node[lbl] (l55) at (1127,-6612) {-beamline};
\end{tikzpicture}
\end{document}
